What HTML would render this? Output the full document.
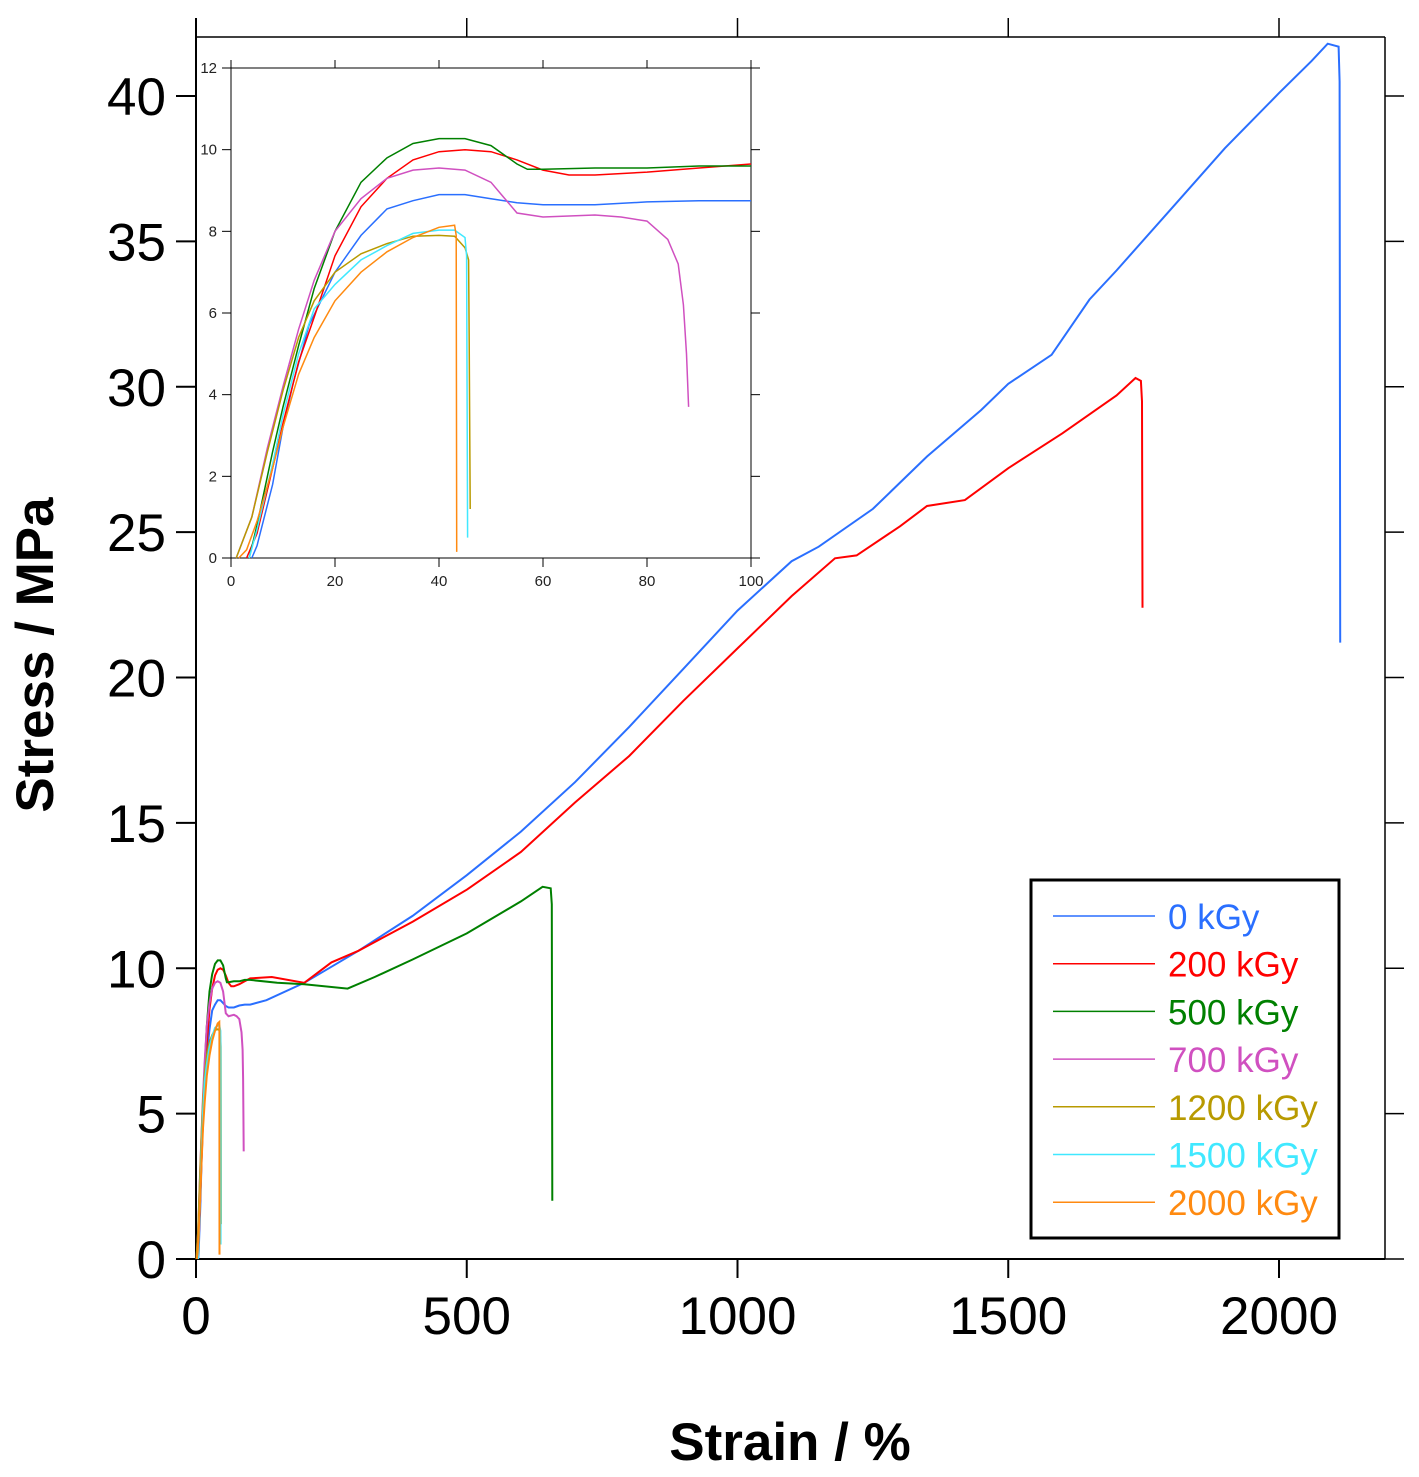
<!DOCTYPE html>
<html><head><meta charset="utf-8"><style>
html,body{margin:0;padding:0;background:#fff;}
svg{display:block;font-family:"Liberation Sans",sans-serif;}
</style></head><body>
<svg id="chart" width="1419" height="1477" viewBox="0 0 1419 1477" xmlns="http://www.w3.org/2000/svg">
<g id="main"></g>
<g id="inset"></g>
<g id="legend"></g>
<text x="790" y="1460" text-anchor="middle" font-size="53" font-weight="bold">Strain / %</text>
<text transform="translate(53,655) rotate(-90)" text-anchor="middle" font-size="53" font-weight="bold">Stress / MPa</text>
</svg>
<script>
const seriesNames = ["0 kGy","200 kGy","500 kGy","700 kGy","1200 kGy","1500 kGy","2000 kGy"];
const seriesColors = ["#2a6fff","#ff0000","#008000","#d050c0","#b89a00","#40e8ff","#ff8a10"];
const s0 = [[4,0],[5,0.3],[8,1.8],[10,3.2],[12,4.3],[15,5.7],[20,7.0],[25,7.9],[30,8.55],[35,8.75],[40,8.9],[45,8.9],[50,8.8],[55,8.7],[60,8.65],[70,8.65],[80,8.72],[90,8.75],[100,8.75],[130,8.9],[200,9.5],[300,10.6],[400,11.8],[500,13.2],[600,14.7],[700,16.4],[800,18.3],[900,20.3],[1000,22.3],[1100,24],[1150,24.5],[1250,25.8],[1350,27.6],[1450,29.2],[1500,30.1],[1580,31.1],[1650,33],[1700,34],[1800,36.1],[1900,38.2],[2000,40.1],[2060,41.2],[2090,41.8],[2110,41.7],[2112,40.5],[2113,21.2]];
const s200 = [[3,0],[5,0.6],[8,2.2],[10,3.3],[13,4.8],[16,5.9],[20,7.4],[25,8.6],[30,9.3],[35,9.75],[40,9.95],[45,10.0],[50,9.95],[55,9.75],[60,9.5],[65,9.38],[70,9.38],[80,9.45],[90,9.55],[100,9.65],[140,9.7],[200,9.5],[250,10.2],[300,10.6],[400,11.6],[500,12.7],[600,14],[700,15.7],[800,17.3],[900,19.2],[1000,21],[1100,22.8],[1180,24.1],[1220,24.2],[1300,25.2],[1350,25.9],[1420,26.1],[1500,27.2],[1600,28.4],[1700,29.7],[1735,30.3],[1745,30.2],[1747,29.5],[1748,22.4]];
const s500 = [[3.5,0],[5,0.8],[8,2.6],[10,3.7],[13,5.2],[16,6.6],[20,8.0],[25,9.2],[30,9.8],[35,10.15],[40,10.27],[45,10.27],[50,10.1],[55,9.65],[57,9.52],[60,9.52],[70,9.55],[80,9.55],[90,9.6],[100,9.6],[150,9.5],[200,9.45],[280,9.3],[330,9.7],[400,10.3],[500,11.2],[600,12.3],[640,12.8],[655,12.75],[657,12.2],[658,2.0]];
const s700 = [[1,0],[4,1],[7,2.7],[10,4.2],[13,5.6],[16,6.8],[20,8.0],[25,8.8],[30,9.3],[35,9.5],[40,9.55],[45,9.5],[50,9.2],[52,8.9],[55,8.45],[60,8.35],[70,8.4],[75,8.35],[80,8.25],[84,7.8],[86,7.2],[87,6.2],[87.6,5.0],[88,3.7]];
const s1200 = [[1,0],[4,1],[7,2.6],[10,4.1],[13,5.4],[16,6.3],[20,7.0],[25,7.45],[30,7.7],[35,7.88],[40,7.9],[43,7.88],[45,7.6],[45.7,7.3],[45.8,5.3],[46,1.2]];
const s1500 = [[3.5,0],[5,0.7],[8,2.3],[10,3.5],[13,5.0],[16,6.1],[20,6.7],[25,7.3],[30,7.65],[35,7.95],[40,8.03],[43,8.03],[45,7.85],[45.3,7.4],[45.5,0.5]];
const s2000 = [[1.5,0],[3,0.2],[5,0.9],[8,2.2],[10,3.2],[13,4.5],[16,5.4],[20,6.3],[25,7.0],[30,7.5],[35,7.85],[40,8.1],[43,8.15],[43.3,7.9],[43.4,0.15]];
const mainXTicks = [0,500,1000,1500,2000];
const mainYTicks = [0,5,10,15,20,25,30,35,40];
const insetXTicks = [0,20,40,60,80,100];
const insetYTicks = [0,2,4,6,8,10,12];

const allSeries = [s0,s200,s500,s700,s1200,s1500,s2000];
const NS = "http://www.w3.org/2000/svg";
function mk(tag, attrs, parent){const e=document.createElementNS(NS,tag);for(const k in attrs)e.setAttribute(k,attrs[k]);parent.appendChild(e);return e;}

const mx = v => 196 + v*(1279-196)/2000;
const my = v => 1259 - v*(1259-96)/40;
const main = document.getElementById('main');
let ln;
ln = mk('line',{x1:196,y1:18,x2:196,y2:1278,stroke:'#000','stroke-width':2},main);


ln = mk('line',{x1:196,y1:1259,x2:1385,y2:1259,stroke:'#000','stroke-width':2},main);


ln = mk('line',{x1:196,y1:37,x2:1385,y2:37,stroke:'#000','stroke-width':1.5},main);


ln = mk('line',{x1:1385,y1:37,x2:1385,y2:1259,stroke:'#000','stroke-width':1.5},main);


mainXTicks.forEach(t=>{
  const x=mx(t);
  let l=mk('line',{x1:x,y1:1259,x2:x,y2:1278,stroke:'#000','stroke-width':2},main);
  
  
  l=mk('line',{x1:x,y1:18,x2:x,y2:37,stroke:'#000','stroke-width':1.5},main);
  
  
  const tx=mk('text',{x:x,y:1334,'text-anchor':'middle','font-size':53},main);
  tx.textContent=t;
  
  
});
mainYTicks.forEach(t=>{
  const y=my(t);
  let l=mk('line',{x1:176,y1:y,x2:196,y2:y,stroke:'#000','stroke-width':2},main);
  
  
  l=mk('line',{x1:1385,y1:y,x2:1404,y2:y,stroke:'#000','stroke-width':1.5},main);
  
  
  const tx=mk('text',{x:166,y:y+19,'text-anchor':'end','font-size':53},main);
  tx.textContent=t;
  
  
});
allSeries.forEach((s,i)=>{
  const p=mk('polyline',{points:s.map(d=>mx(d[0]).toFixed(1)+','+my(d[1]).toFixed(1)).join(' '),fill:'none',stroke:seriesColors[i],'stroke-width':2},main);
  
  
});

const ix = v => 231 + v*(751-231)/100;
const iy = v => 558 - v*(558-68)/12;
const inset = document.getElementById('inset');
mk('rect',{x:231,y:68,width:520,height:490,fill:'#fff'},inset);
const frames=[[231,60,231,567],[222,558,760,558],[222,68,760,68],[751,60,751,567]];
frames.forEach(f=>{
  const l=mk('line',{x1:f[0],y1:f[1],x2:f[2],y2:f[3],stroke:'#000','stroke-width':1},inset);
  
  
});
insetXTicks.forEach(t=>{
  const x=ix(t);
  let l=mk('line',{x1:x,y1:558,x2:x,y2:567,stroke:'#000','stroke-width':1},inset);
  
  
  l=mk('line',{x1:x,y1:60,x2:x,y2:68,stroke:'#000','stroke-width':1},inset);
  
  
  const tx=mk('text',{x:x,y:586,'text-anchor':'middle','font-size':15,fill:'#222'},inset);
  tx.textContent=t;
  
  
});
insetYTicks.forEach(t=>{
  const y=iy(t);
  let l=mk('line',{x1:222,y1:y,x2:231,y2:y,stroke:'#000','stroke-width':1},inset);
  
  
  l=mk('line',{x1:751,y1:y,x2:760,y2:y,stroke:'#000','stroke-width':1},inset);
  
  
  const tx=mk('text',{x:217,y:y+5,'text-anchor':'end','font-size':15,fill:'#222'},inset);
  tx.textContent=t;
  
  
});
mk('clipPath',{id:'ic'},inset).appendChild(document.createElementNS(NS,'rect'));
const cr=document.querySelector('#ic rect');cr.setAttribute('x',231);cr.setAttribute('y',60);cr.setAttribute('width',522);cr.setAttribute('height',500);
allSeries.forEach((s,i)=>{
  const p=mk('polyline',{points:s.filter(d=>d[0]<=110).map(d=>ix(d[0]).toFixed(1)+','+iy(d[1]).toFixed(1)).join(' '),fill:'none',stroke:seriesColors[i],'stroke-width':1.5,'clip-path':'url(#ic)'},inset);
  
  
});

const lg=document.getElementById('legend');
const box=mk('rect',{x:1031,y:880,width:308,height:358,fill:'#fff',stroke:'#000','stroke-width':3},lg);


seriesNames.forEach((n,i)=>{
  const y=916+i*47.7;
  const l=mk('line',{x1:1053,y1:y,x2:1155,y2:y,stroke:seriesColors[i],'stroke-width':1.5},lg);
  
  
  const t=mk('text',{x:1168,y:y+13,'font-size':35,fill:seriesColors[i]},lg);
  t.textContent=n;
  
  
});
</script>
</body></html>
